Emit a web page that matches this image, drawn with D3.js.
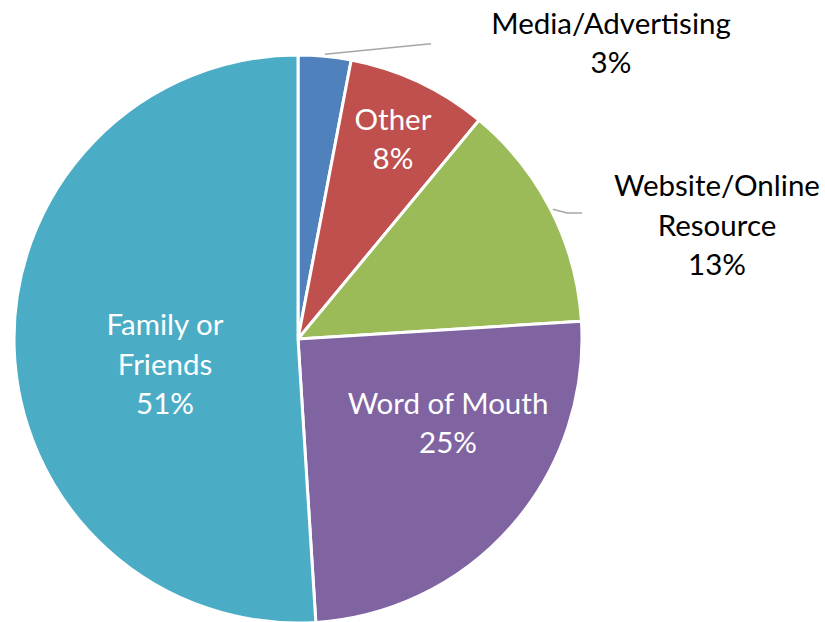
<!DOCTYPE html>
<html>
<head>
<meta charset="utf-8">
<script src="https://cdn.jsdelivr.net/npm/d3@7"></script>
<style>
  html, body { margin: 0; padding: 0; background: #fff; }
  svg { display: block; }
  text { font-family: Lato, "Open Sans", sans-serif; }
</style>
</head>
<body>
<svg id="chart" width="825" height="622"></svg>
<script>
// Source of referral, share of respondents (%)
const categories = ["Media/Advertising", "Other", "Website/Online Resource", "Word of Mouth", "Family or Friends"];
const shares = [3, 8, 13, 25, 51];
const labelLines = [
  ["Media/Advertising", "3%"],
  ["Other", "8%"],
  ["Website/Online", "Resource", "13%"],
  ["Word of Mouth", "25%"],
  ["Family or", "Friends", "51%"]
];
const colors = ["#4F81BD", "#C0504D", "#9BBB59", "#8064A2", "#4BACC6"];

const width = 825, height = 622;
const cx = 298, cy = 339, radius = 284;

// label placement: inside labels sit within the slice, outside ones get a leader line
const labelLayout = [
  { x: 313, y: -296, inside: false, leader: [[428, 44], [431, 44]] },
  { x: 95,  y: -200, inside: true },
  { x: 419, y: -114, inside: false, leader: [[567, 213], [582, 213]] },
  { x: 150, y: 84,   inside: true },
  { x: -133, y: 25,  inside: true }
];

const svg = d3.select("#chart");
const g = svg.append("g").attr("transform", `translate(${cx},${cy})`);

const pie = d3.pie().value(d => d).sort(null);
const arcs = pie(shares);
const arc = d3.arc().innerRadius(0).outerRadius(radius);

g.selectAll("path.slice")
  .data(arcs)
  .join("path")
  .attr("class", "slice")
  .attr("d", arc)
  .attr("fill", (d, i) => colors[i])
  .attr("stroke", "#fff")
  .attr("stroke-width", 3)
  .attr("stroke-linejoin", "round");

// leader lines for labels placed outside the pie
arcs.forEach((d, i) => {
  const lay = labelLayout[i];
  if (lay.inside) return;
  const a = (d.startAngle + d.endAngle) / 2;
  const start = [Math.sin(a) * (radius + 2), -Math.cos(a) * (radius + 2)];
  const pts = [start].concat(lay.leader.map(p => [p[0] - cx, p[1] - cy]));
  g.append("path")
    .attr("d", d3.line()(pts))
    .attr("fill", "none")
    .attr("stroke", "#A6A6A6")
    .attr("stroke-width", 1.5);
});

const fontSize = 29.5, lineH = 39.3;
arcs.forEach((d, i) => {
  const lay = labelLayout[i];
  const lines = labelLines[i];
  const n = lines.length;
  const t = g.append("text")
    .attr("text-anchor", "middle")
    .attr("font-size", fontSize)
    .attr("fill", lay.inside ? "#fff" : "#000");
  lines.forEach((ln, k) => {
    t.append("tspan")
      .attr("x", lay.x)
      .attr("y", lay.y + (k - (n - 1) / 2) * lineH + fontSize * 0.36)
      .text(ln);
  });
});
</script>
</body>
</html>
